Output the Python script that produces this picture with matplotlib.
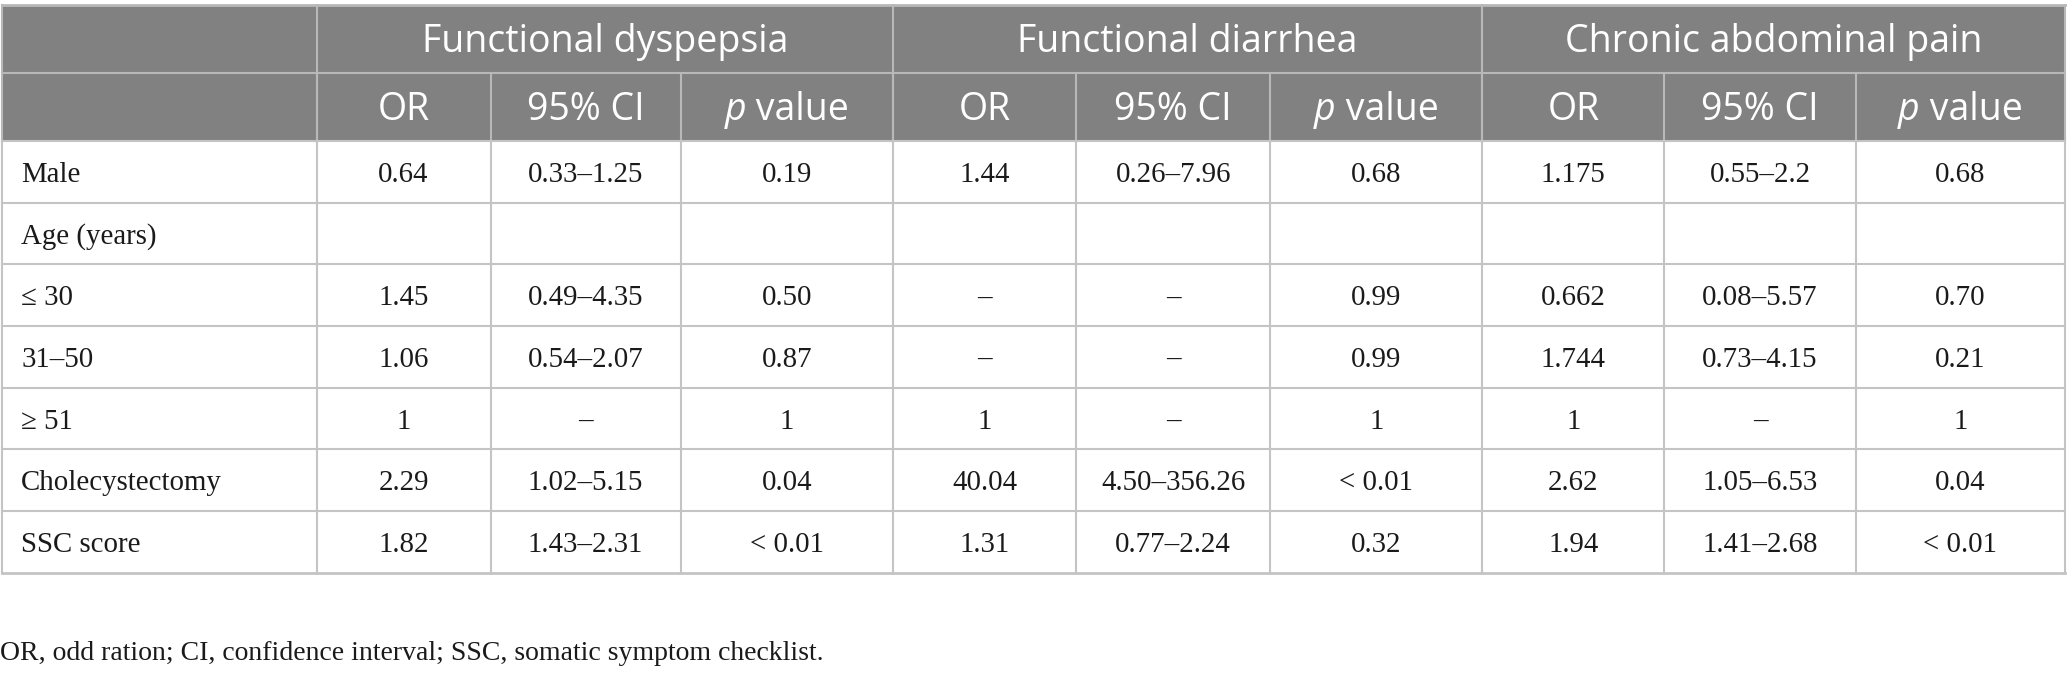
import matplotlib
matplotlib.use("Agg")
import matplotlib.pyplot as plt
from matplotlib.patches import Rectangle

# ---------------- data ----------------
groups = ["Functional dyspepsia", "Functional diarrhea", "Chronic abdominal pain"]
subheaders = ["OR", "95% CI", "p value"]
row_labels = ["Male", "Age (years)", "\u2264 30", "31\u201350", "\u2265 51",
              "Cholecystectomy", "SSC score"]

fd_or = ["0.64", "", "1.45", "1.06", "1", "2.29", "1.82"]
fd_ci = ["0.33\u20131.25", "", "0.49\u20134.35", "0.54\u20132.07", "\u2013", "1.02\u20135.15", "1.43\u20132.31"]
fd_p = ["0.19", "", "0.50", "0.87", "1", "0.04", "< 0.01"]

fdi_or = ["1.44", "", "\u2013", "\u2013", "1", "40.04", "1.31"]
fdi_ci = ["0.26\u20137.96", "", "\u2013", "\u2013", "\u2013", "4.50\u2013356.26", "0.77\u20132.24"]
fdi_p = ["0.68", "", "0.99", "0.99", "1", "< 0.01", "0.32"]

cap_or = ["1.175", "", "0.662", "1.744", "1", "2.62", "1.94"]
cap_ci = ["0.55\u20132.2", "", "0.08\u20135.57", "0.73\u20134.15", "\u2013", "1.05\u20136.53", "1.41\u20132.68"]
cap_p = ["0.68", "", "0.70", "0.21", "1", "0.04", "< 0.01"]

footnote = "OR, odd ration; CI, confidence interval; SSC, somatic symptom checklist."

columns = [fd_or, fd_ci, fd_p, fdi_or, fdi_ci, fdi_p, cap_or, cap_ci, cap_p]

# ---------------- layout ----------------
W, H = 2068, 674
fig = plt.figure(figsize=(W / 100, H / 100), dpi=100)
ax = fig.add_axes([0, 0, 1, 1])
ax.set_xlim(0, 1)
ax.set_ylim(1, 0)
ax.axis("off")

col_x = [0.0008, 0.1531, 0.2372, 0.3291, 0.4318, 0.5204, 0.6142, 0.7168, 0.8048, 0.8973, 0.9987]
y_top = 0.008
y_h1 = 0.108
y_h2 = 0.209
row_h = 0.0915
row_y = [y_h2 + i * row_h for i in range(len(row_labels) + 1)]

header_bg = "#808180"
grid = "#c4c4c4"
hdr_line = "#b8b8b8"

hfont = dict(family=["Open Sans", "DejaVu Sans"], size=27, color="white", weight="normal")
bfont = dict(family=["Liberation Serif", "DejaVu Serif"], size=20.8, color="#1a1a1a")
ffont = dict(family=["Liberation Serif", "DejaVu Serif"], size=20, color="#1a1a1a")

# header background
ax.add_patch(Rectangle((col_x[0], y_top), col_x[-1] - col_x[0], y_h2 - y_top,
                       facecolor=header_bg, edgecolor="none", zorder=1))

# header lines
ax.plot([col_x[0], col_x[-1]], [y_top, y_top], color=hdr_line, lw=2, zorder=2)
ax.plot([col_x[0], col_x[-1]], [y_h1, y_h1], color=hdr_line, lw=1.5, zorder=2)
for i in [0, 1, 4, 7]:
    ax.plot([col_x[i], col_x[i]], [y_top, y_h2], color=hdr_line, lw=1.5, zorder=2)
for i in range(1, 10):
    ax.plot([col_x[i], col_x[i]], [y_h1, y_h2], color=hdr_line, lw=1.5, zorder=2)
ax.plot([col_x[-1], col_x[-1]], [y_top, y_h2], color=hdr_line, lw=1.5, zorder=2)

# body grid
for k, yy in enumerate(row_y):
    ax.plot([col_x[0], col_x[-1]], [yy, yy], color=grid, lw=2 if k == len(row_y) - 1 else 1.5, zorder=2)
for i in range(len(col_x)):
    ax.plot([col_x[i], col_x[i]], [y_h2, row_y[-1]], color=grid, lw=1.5, zorder=2)

# group headers
for g, name in enumerate(groups):
    xc = (col_x[1 + 3 * g] + col_x[4 + 3 * g]) / 2
    ax.text(xc, (y_top + y_h1) / 2 + 0.004, name, ha="center", va="center", zorder=3, **hfont)

# sub headers
fig.canvas.draw()
renderer = fig.canvas.get_renderer()
ysub = (y_h1 + y_h2) / 2 + 0.004
for g in range(3):
    for j, sh in enumerate(subheaders):
        i = 1 + 3 * g + j
        xc = (col_x[i] + col_x[i + 1]) / 2
        if sh.startswith("p "):
            t1 = ax.text(0, ysub, "p", ha="left", va="center", style="italic", zorder=3, **hfont)
            t2 = ax.text(0, ysub, sh[1:], ha="left", va="center", zorder=3, **hfont)
            w1 = t1.get_window_extent(renderer).width
            w2 = t2.get_window_extent(renderer).width
            tot = (w1 + w2) / W
            x0 = xc - tot / 2
            t1.set_x(x0)
            t2.set_x(x0 + w1 / W)
        else:
            ax.text(xc, ysub, sh, ha="center", va="center", zorder=3, **hfont)

# body
for r, lab in enumerate(row_labels):
    yc = (row_y[r] + row_y[r + 1]) / 2 + 0.005
    ax.text(0.0102, yc, lab, ha="left", va="center", zorder=3, **bfont)
    for c, col in enumerate(columns):
        xc = (col_x[c + 1] + col_x[c + 2]) / 2
        if col[r]:
            ax.text(xc, yc, col[r], ha="center", va="center", zorder=3, **bfont)

ax.text(0.0, 0.970, footnote, ha="left", va="center", **ffont)

fig.savefig("out.png", dpi=100)
